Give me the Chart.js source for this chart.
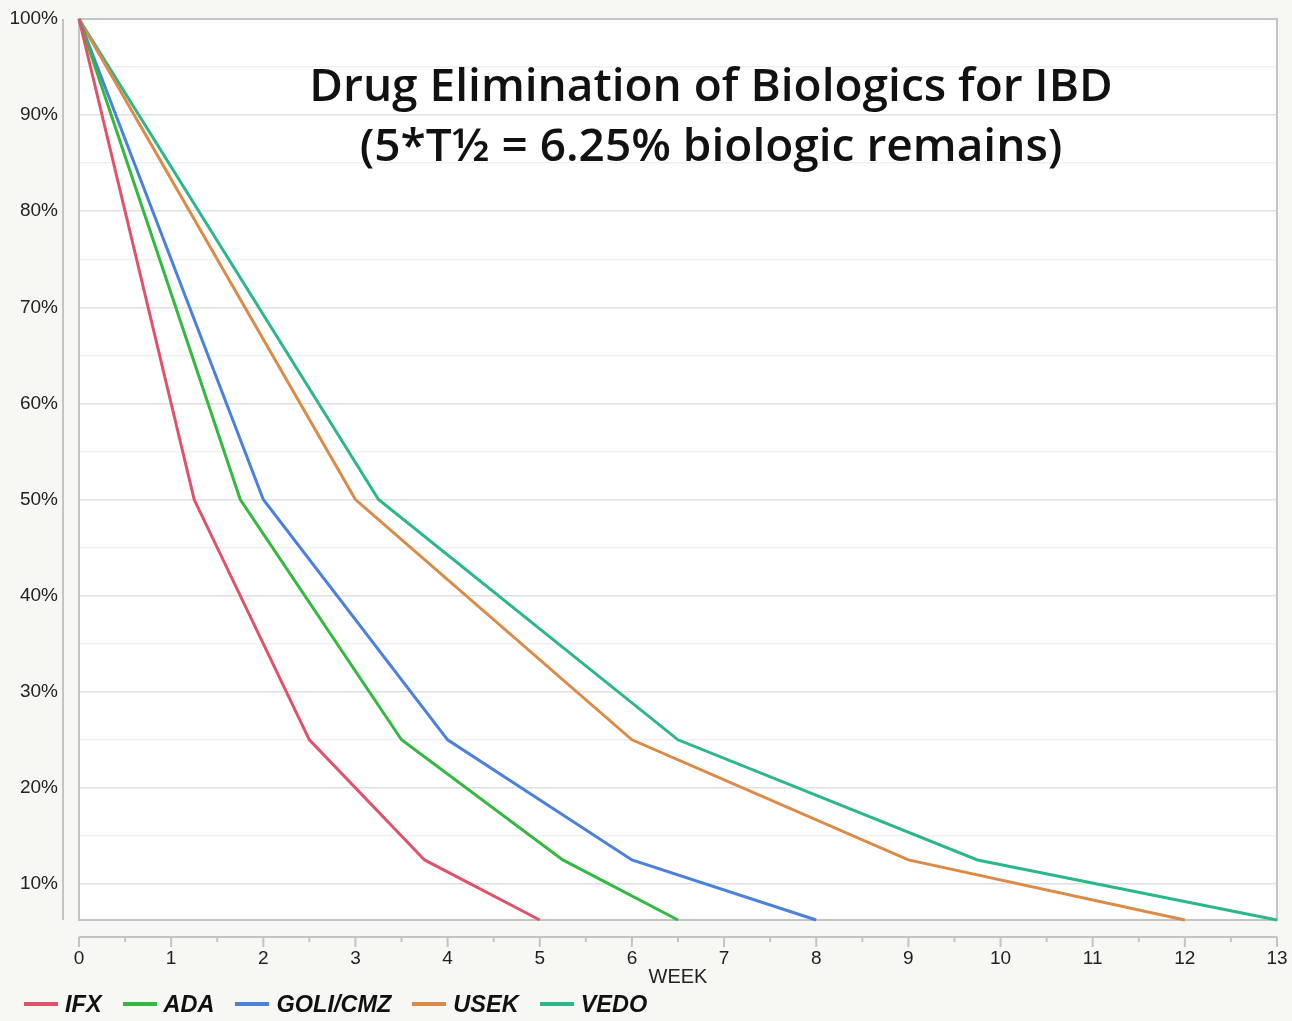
<!DOCTYPE html>
<html lang="en">
<head>
  <meta charset="UTF-8">
  <title>Drug Elimination of Biologics for IBD</title>
  <script src="https://cdn.jsdelivr.net/npm/chart.js"></script>
  <style>
    body {
      margin: 0;
      background: #f7f7f4;
      font-family: "Liberation Sans", Arial, sans-serif;
    }
    #wrap {
      position: relative;
      width: 1292px;
      height: 1021px;
    }
    #title {
      position: absolute;
      left: 711px;
      top: 53px;
      transform: translateX(-50%);
      white-space: nowrap;
      text-align: center;
      font-family: "Open Sans", sans-serif;
      font-weight: 600;
      font-size: 46px;
      line-height: 60px;
      color: #111;
      pointer-events: none;
    }
    #legend {
      position: absolute;
      left: 24px;
      top: 990px;
      display: flex;
      align-items: center;
      height: 28px;
    }
    .item { display: flex; align-items: center; margin-right: 21px; }
    .swatch { width: 34px; height: 4px; margin-right: 7px; }
    .label { font-weight: bold; font-style: italic; font-size: 23.5px; color: #111; }
  </style>
</head>
<body>
  <div id="wrap">
    <canvas id="chart" width="1292" height="1021"></canvas>
    <div id="title">Drug Elimination of Biologics for IBD<br>(5*T½ = 6.25% biologic remains)</div>
    <div id="legend"></div>
  </div>

  <script>
    // Serien: Woche, in der jeweils 50 / 25 / 12.5 / 6.25 % erreicht sind
    const drugs = ["IFX", "ADA", "GOLI/CMZ", "USEK", "VEDO"];
    const colors = ["#e0526a", "#34b940", "#4b80dd", "#dc8a48", "#2bb68c"];
    const remaining = [100, 50, 25, 12.5, 6.25];
    const ifxWeeks = [0, 1.25, 2.5, 3.75, 5];
    const adaWeeks = [0, 1.75, 3.5, 5.25, 6.5];
    const goliWeeks = [0, 2, 4, 6, 8];
    const usekWeeks = [0, 3, 6, 9, 12];
    const vedoWeeks = [0, 3.25, 6.5, 9.75, 13];
    const weekSeries = [ifxWeeks, adaWeeks, goliWeeks, usekWeeks, vedoWeeks];

    const yTicks = [10, 15, 20, 25, 30, 35, 40, 45, 50, 55, 60, 65, 70, 75, 80, 85, 90, 95, 100];
    const weekTicks = [0, 0.5, 1, 1.5, 2, 2.5, 3, 3.5, 4, 4.5, 5, 5.5, 6, 6.5, 7, 7.5, 8, 8.5, 9, 9.5, 10, 10.5, 11, 11.5, 12, 12.5, 13];

    const datasets = drugs.map((name, i) => ({
      label: name,
      data: weekSeries[i].map((w, j) => ({ x: w, y: remaining[j] })),
      borderColor: colors[i],
      backgroundColor: colors[i],
      borderWidth: 3,
      pointRadius: 0,
      tension: 0,
      clip: false,
    }));

    // Rahmen, abgesetzte Achsenlinien und Tick-Striche
    const framePlugin = {
      id: "frame",
      beforeDraw(chart) {
        const { ctx, chartArea: a } = chart;
        ctx.save();
        ctx.fillStyle = "#ffffff";
        ctx.fillRect(a.left, a.top, a.right - a.left, a.bottom - a.top);
        ctx.restore();
      },
      beforeDatasetsDraw(chart) {
        const { ctx, chartArea: a, scales } = chart;
        ctx.save();
        ctx.strokeStyle = "#c4c4c4";
        ctx.lineWidth = 2;
        ctx.strokeRect(a.left, a.top, a.right - a.left, a.bottom - a.top);

        // y-Achsenlinie links abgesetzt
        ctx.beginPath();
        ctx.moveTo(a.left - 16, a.top);
        ctx.lineTo(a.left - 16, a.bottom);
        ctx.stroke();

        // x-Achsenlinie unten abgesetzt
        const y0 = a.bottom + 17;
        const x = scales.x;
        ctx.beginPath();
        ctx.moveTo(x.getPixelForValue(0), y0);
        ctx.lineTo(x.getPixelForValue(13), y0);
        weekTicks.forEach(t => {
          const px = x.getPixelForValue(t);
          ctx.moveTo(px, y0);
          ctx.lineTo(px, y0 + (Number.isInteger(t) ? 10 : 5));
        });
        ctx.stroke();
        ctx.restore();
      },
    };

    const chart = new Chart(document.getElementById("chart"), {
      type: "line",
      data: { datasets },
      plugins: [framePlugin],
      options: {
        responsive: false,
        animation: false,
        layout: { padding: { top: 19, right: 15, left: 0, bottom: 32 } },
        plugins: {
          legend: { display: false },
          tooltip: { enabled: false },
        },
        scales: {
          x: {
            type: "linear",
            min: 0,
            max: 13,
            afterBuildTicks: s => { s.ticks = weekTicks.map(v => ({ value: v })); },
            afterFit: s => { s.height = 69; s.paddingLeft = 0; s.paddingRight = 0; },
            grid: { drawOnChartArea: false, drawTicks: false },
            border: { display: false },
            ticks: {
              autoSkip: false,
              maxRotation: 0,
              padding: 27,
              color: "#222",
              font: { family: "Liberation Sans", size: 19 },
              callback: v => Number.isInteger(v) ? String(v) : "",
            },
            title: {
              display: true,
              text: "WEEK",
              color: "#222",
              padding: 0,
              font: { family: "Liberation Sans", size: 20 },
            },
          },
          y: {
            min: 6.25,
            max: 100,
            afterBuildTicks: s => { s.ticks = yTicks.map(v => ({ value: v })); },
            afterFit: s => { s.width = 79; s.paddingTop = 0; s.paddingBottom = 0; },
            grid: {
              drawTicks: false,
              color: c => (c.tick && c.tick.value % 10 === 0) ? "#e0e0e0" : "#f0f0f0",
              lineWidth: 1.5,
            },
            border: { display: false },
            ticks: {
              padding: 21,
              color: "#222",
              font: { family: "Liberation Sans", size: 19 },
              callback: v => v % 10 === 0 ? v + "%" : "",
            },
          },
        },
      },
    });

    // Legende aus den Datasets
    const legend = document.getElementById("legend");
    chart.data.datasets.forEach(ds => {
      const item = document.createElement("div");
      item.className = "item";
      const sw = document.createElement("span");
      sw.className = "swatch";
      sw.style.background = ds.borderColor;
      const lb = document.createElement("span");
      lb.className = "label";
      lb.textContent = ds.label;
      item.appendChild(sw);
      item.appendChild(lb);
      legend.appendChild(item);
    });
  </script>
</body>
</html>
